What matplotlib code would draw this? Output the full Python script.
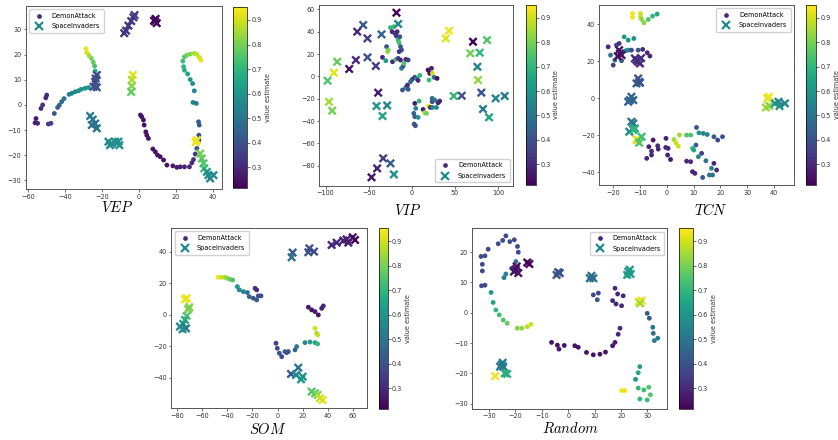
import matplotlib
matplotlib.use('Agg')
import matplotlib.pyplot as plt
from matplotlib.lines import Line2D
from matplotlib.colors import Normalize
import matplotlib.cm as cm

plt.rcParams['font.family'] = ['DejaVu Sans']
plt.rcParams['mathtext.fontset'] = 'cm'

VMIN, VMAX = 0.215, 0.953

# ---------------- VEP ----------------
vep_da_x = [-55.5, -54.6, -56, -52.8, -51.9, -50.2, -49.7,
            -48.8, -47.4, -45.6, -43.8, -42.9, -41.6, -40.3, -37.6, -36.2, -34.4, -32.6, -31.1, -29, -27.1,
            -23.5, -23.8, -24.5, -25.5, -26.8, -28, -28.5,
            23.9, 24.8, 26.1, 27.9, 30.1, 31.5, 32.8, 33.7,
            24.3, 24.8, 26.5, 27.9, 29.2, 30.1, 29.4, 31.2, 32.4, 32.8, 32.6, 32.6,
            31.5, 30.6, 29.7, 28.8, 27.5, 24.8, 22.5, 20.7, 18.5, 15.3, 13.5, 11.7, 10.2, 9, 7.7, 5.3, 4.4, 3.9, 3, 2.6, 1.7, 1]
vep_da_y = [-5.4, -7.3, -7.1, -1.4, 0, 2.8, 3.9,
            -7.6, -7.3, -3.4, -1, -0.1, 1.3, 2.5, 4.2, 4.6, 5.2, 5.6, 6.2, 6.6, 6.9,
            13.5, 15.5, 17, 18.5, 19.6, 20.8, 22.3,
            17.4, 19.1, 19.8, 20.2, 20.5, 20.1, 18.9, 17.8,
            15.2, 13.8, 12.3, 10.1, 8.5, 5.6, 1, 0.6, -6.7, -8, -12, -14,
            -17.3, -19.5, -21.7, -23, -24.6, -24.6, -24.6, -24.8, -24.2, -23.9, -21.9, -20.6, -19.9, -18.6, -17.5, -13.3, -12, -10.7, -8, -6, -4.7, -4]
vep_da_v = [0.27, 0.3, 0.28, 0.3, 0.32, 0.3, 0.3,
            0.33, 0.36, 0.4, 0.43, 0.45, 0.48, 0.5, 0.53, 0.55, 0.56, 0.57, 0.58, 0.6, 0.6,
            0.68, 0.74, 0.78, 0.8, 0.85, 0.9, 0.93,
            0.72, 0.75, 0.8, 0.82, 0.85, 0.88, 0.9, 0.92,
            0.7, 0.68, 0.64, 0.6, 0.58, 0.55, 0.55, 0.53, 0.43, 0.42, 0.4, 0.38,
            0.38, 0.35, 0.33, 0.3, 0.3, 0.28, 0.28, 0.27, 0.26, 0.25, 0.25, 0.25, 0.25, 0.25, 0.25, 0.25, 0.25, 0.25, 0.25, 0.25, 0.25, 0.25]
vep_si_x = [-7.8, -6.8, -5.5, -4, -2.8, -2.2, 8.4, 9.8, 9.2, 8.8,
            -22.6, -23.5, -24.4, -22.6, -23.2, -3.1, -3.7, -3.7, -4.0,
            -26.2, -24.8, -23.5, -22.6, -25.3, -16.3, -14.5, -12.7, -10.9, -10.4, -15.5,
            31.5, 30.8, 33.3, 34.2, 35.1, 35.5, 36.9, 37.8, 38.7, 40.5]
vep_si_y = [28.5, 29.5, 31.5, 33.3, 34.8, 35.7, 33.5, 32.5, 34.2, 33.2,
            11.9, 9.2, 7.2, 7, 10.5, 11.9, 9.9, 7.5, 5.2,
            -4.4, -5.8, -7.4, -9.3, -8, -14.6, -15.3, -14.6, -14.6, -16, -16,
            -14, -14.8, -19.3, -21.3, -23.2, -25.2, -26.6, -27.9, -29.2, -27.9]
vep_si_v = [0.33, 0.33, 0.33, 0.34, 0.34, 0.35, 0.22, 0.22, 0.22, 0.23,
            0.38, 0.38, 0.4, 0.4, 0.38, 0.92, 0.87, 0.82, 0.78,
            0.52, 0.52, 0.5, 0.5, 0.5, 0.57, 0.57, 0.58, 0.58, 0.58, 0.57,
            0.93, 0.93, 0.8, 0.78, 0.75, 0.72, 0.62, 0.58, 0.55, 0.56]

# ---------------- VIP ----------------
vip_da_x = [-24.7, -20.8, -22.8, -19.7, -17, -17.8, -15.8, -14.7, -13.9, -29.3, -28.1, -27.4, -13.1, -11.9, -14.7,
            -34, -30.1, -22.4, -18.5, -15.8, -13.1, -11.9, -10, -9.2, -6.9, -4.2,
            -10.8, -6.9, -4.2, -5, -1.5, 0.4, 3.5, 5.4, 9.3, 7.3, 18.9, 22.8, 20.8, 23.9, 20, 25.8, 29.3,
            3.5, 8.5, 4.6, 2.3, 3.5, 7.3, 2.7, 4.2, 13.1, 15, 17, 19.3, 21.6, 23.6, 23.6, 24, 28.6, 30.5, 32.4, 26.6]
vip_da_y = [43.6, 44.5, 40, 38.5, 40, 36.1, 32.5, 30.1, 35.5, 26.6, 22.1, 23.6, 26.6, 23.6, 22.1,
            17, 14, 13.1, 15.2, 16.1, 14.6, 7.2, 9.3, 11.6, 15.2, 14.6,
            -12.2, -9.9, -11.6, -7.8, -4.8, -2.7, -0.9, -1.8, 0.9, -3.6, 5.7, 7.2, 2.7, 2.7, -3.3, -0.9, -1.8,
            -24.2, -22.1, -28.7, -33.1, -36.1, -36.7, -42.7, -44.2, -29.6, -32.5, -33.1, -26.6, -27.8, -19.7, -22.7, -27.8, -27.8, -23.6, -22.1, -21.2]
vip_da_v = [0.7, 0.72, 0.3, 0.35, 0.3, 0.33, 0.7, 0.75, 0.4, 0.4, 0.85, 0.8, 0.42, 0.4, 0.33,
            0.3, 0.62, 0.3, 0.75, 0.35, 0.3, 0.55, 0.4, 0.75, 0.3, 0.35,
            0.4, 0.5, 0.42, 0.3, 0.5, 0.4, 0.3, 0.55, 0.7, 0.3, 0.25, 0.28, 0.25, 0.9, 0.72, 0.5, 0.25,
            0.28, 0.7, 0.55, 0.45, 0.42, 0.6, 0.42, 0.4, 0.28, 0.85, 0.8, 0.93, 0.28, 0.5, 0.4, 0.55, 0.55, 0.28, 0.3, 0.5]
vip_si_x = [-17.8, -56.4, -15.8, -63.3, -35.1, -51.4, 39.4, 43.2, 71, 87.3, 67.9, 78.8, 76.1, 76.8,
            -86.5, -64.9, -51.4, -72.6, -90.3, -41.7, -97.7, -39, -96.1, -92.3, -40.9, -28.6, -34,
            48.6, 57.9, 80.7, 82.6, 89.6, 97.3, 107.7, -33.2, -40.2, -46.7, -24.7, -20.8]
vip_si_y = [57, 46, 46.9, 40, 37.6, 34, 34, 40.9, 31, 32.5, 20.6, 21.2, 8.6, -3.3,
            13.1, 14.6, 17, 6.6, 3.3, 9.3, -3.9, -14.6, -22.7, -30.7, -26.6, -26, -35.5,
            -17.6, -17.3, -14.6, -29.3, -36.7, -19.7, -17.6, -73.4, -82.4, -90.4, -77.9, -87.8]
vip_si_v = [0.22, 0.42, 0.55, 0.3, 0.45, 0.35, 0.92, 0.93, 0.22, 0.75, 0.8, 0.7, 0.55, 0.83,
            0.78, 0.3, 0.4, 0.25, 0.92, 0.35, 0.75, 0.27, 0.85, 0.8, 0.6, 0.55, 0.65,
            0.7, 0.4, 0.4, 0.52, 0.65, 0.55, 0.52, 0.35, 0.28, 0.25, 0.42, 0.58]

# ---------------- TCN ----------------
tcn_da_x = [-12.8, -12.8, -9.8, -9.8, -9.4, -8.5, -6.9, -5.3, -3.6,
            -15.9, -14.4, -12.3, -14.4,
            -21.9, -21, -20, -18.8, -17.8, -15.3, -13.2, -10.7, -9, -7.3, -6.3, -19.4, -16.9,
            4.7, 2.7, 3.4, 4.3, 7.4, 8.9, 11.1, 12, 13.6, 15.1, 17.6, 19, 20.8, 9.6, 10.1, 10.9, 13, 11.8, 14.6,
            7.4, 8.9, 17.6, 18.6, 16.7, 9.6, 10.5, 13.4, 15.9, 17.1,
            -5.1, -0.3, -6.7, -5.7, -3.4, -3.2, -0.4, 0.5, 0.3, 1.4, -5.7, -7.5]
tcn_da_y = [45.9, 43.8, 45.9, 44.1, 42.7, 40.9, 42.7, 44.5, 45.6,
            33.3, 31.5, 32.4, 26.1,
            27.9, 23.4, 18, 28.8, 29.7, 25.8, 26.1, 26.1, 26.5, 24.7, 22.9, 20.7, 20.4,
            -19.8, -22.2, -24, -25.8, -19.8, -19.8, -15.7, -18.6, -18.9, -19.5, -20.7, -22.5, -20.7, -27, -27.9, -25.2, -29.7, -31.5, -33.7,
            -33.9, -34.2, -35.1, -38.7, -37.8, -39.6, -40.5, -42.7, -41.4, -41.4,
            -22.5, -21.6, -26.1, -28.5, -25.6, -27.4, -26.5, -27, -30.6, -33, -30.6, -32.4]
tcn_da_v = [0.93, 0.93, 0.9, 0.88, 0.83, 0.82, 0.75, 0.7, 0.65,
            0.62, 0.6, 0.58, 0.55,
            0.3, 0.5, 0.35, 0.38, 0.32, 0.55, 0.38, 0.4, 0.3, 0.3, 0.3, 0.5, 0.42,
            0.85, 0.85, 0.9, 0.9, 0.75, 0.75, 0.4, 0.6, 0.55, 0.55, 0.42, 0.38, 0.4, 0.7, 0.65, 0.42, 0.35, 0.55, 0.5,
            0.3, 0.3, 0.3, 0.3, 0.55, 0.3, 0.3, 0.42, 0.5, 0.5,
            0.25, 0.28, 0.28, 0.3, 0.3, 0.3, 0.3, 0.3, 0.28, 0.25, 0.3, 0.3]
tcn_si_x = [-17.5, -16.9, -17.8, -18.3, -11.9, -10.7, -10, -11.3, -9.6,
            -10.7, -10.3, -11.3, -10, -13.2, -13.8, -12.5, -14.4,
            -13.2, -12.5, -11.9, -14, -12.5, -11.3, -10.7, -10.3, -9.4,
            38.2, 37.5, 37, 38.3, 40.4, 41.7, 42.1, 44.1]
tcn_si_y = [24.3, 23.4, 26.1, 22.8, 21.6, 19.8, 18.9, 20.7, 21.8,
            10.8, 9, 8.1, 8.5, 0.9, -0.9, -0.9, -1.8,
            -12.6, -13.5, -16.2, -18, -17.1, -22.2, -22.5, -24, -20.7,
            0.9, 0, -4.9, -4.1, -2.7, -1.8, -4.1, -2.7]
tcn_si_v = [0.25, 0.25, 0.26, 0.25, 0.3, 0.3, 0.3, 0.3, 0.32,
            0.4, 0.4, 0.42, 0.4, 0.45, 0.45, 0.45, 0.45,
            0.5, 0.5, 0.65, 0.55, 0.7, 0.9, 0.92, 0.75, 0.72,
            0.93, 0.93, 0.85, 0.82, 0.62, 0.55, 0.6, 0.55]

# ---------------- SOM ----------------
som_da_x = [-47.1, -44.5, -41.8, -40, -37.8, -35.7,
            -32, -30.4, -27.2, -24, -22.5, -19.3, -16.6, -15.3, -13.2, -17.9, -16.6,
            24.5, 27.1, 29.8, 32.4, 35.1, 36.4,
            29.8, 31.1, 31.9,
            21.8, 25.8, 29.8, 31.9, 15.2, 13.9,
            -1.2, -0.2, 1.4, 3.3, 7.2, 8.6, 5.9]
som_da_y = [23.7, 23.7, 23.7, 23.1, 22.4, 22,
            17.8, 15.7, 14.6, 14, 11.4, 10.4, 9.3, 11.9, 11.9, 16.7, 15.7,
            4.7, 3, 1.9, -0.2, 4, 5.5,
            -8.7, -11.9, -12.9,
            -17.8, -17.4, -17.8, -18.6, -20.3, -22.4,
            -18.2, -21.4, -24.5, -26.7, -24.1, -23.5, -23.5]
som_da_v = [0.93, 0.9, 0.85, 0.82, 0.78, 0.75,
            0.62, 0.58, 0.55, 0.5, 0.45, 0.42, 0.42, 0.4, 0.38, 0.33, 0.3,
            0.27, 0.25, 0.27, 0.25, 0.28, 0.3,
            0.9, 0.85, 0.88,
            0.55, 0.62, 0.65, 0.7, 0.52, 0.45,
            0.35, 0.38, 0.4, 0.38, 0.38, 0.4, 0.42]
som_si_x = [-72.3, -73.6, -70.2, -71, -72.3, -73.6, -75, -77.6, -72.8, -75.5,
            12, 11.2, 25.3, 24.5, 29,
            43, 47, 52.3, 54.9, 59.8, 61.6, 56.3,
            10.7, 16.5, 14.7, 18.7, 20,
            27.1, 29.8, 31.9, 35.9, 33.7]
som_si_y = [10.4, 9.7, 4.7, 3.4, -0.8, -3.4, -5.9, -7.6, -8.7, -9.3,
            39.4, 36.4, 42.1, 39.6, 40,
            44.2, 45.7, 47, 47.8, 49.1, 47.4, 45.7,
            -37.7, -33.7, -38.3, -41.1, -39.4,
            -48.9, -50, -51, -54.2, -53.1]
som_si_v = [0.93, 0.93, 0.82, 0.8, 0.75, 0.68, 0.62, 0.55, 0.5, 0.58,
            0.42, 0.48, 0.4, 0.4, 0.38,
            0.3, 0.3, 0.28, 0.28, 0.25, 0.22, 0.28,
            0.42, 0.5, 0.55, 0.62, 0.58,
            0.75, 0.78, 0.82, 0.92, 0.9]

# ---------------- Random ----------------
rnd_da_x = [-33, -31.5, -30.3, -26.5, -24.8, -23.6, -22.1, -20.4, -19.2, -18.9, -32.5, -32.5, -32.8, -31.5,
            -19.8, -21.4, -23.6, -24.3,
            -29.2, -28.4, -27.4, -26.1, -24.6, -23.1, -19.3, -17.6, -15.5, -14.1,
            -6.3, -4.1, -3.5, -1.5, 2.5, 3.8, 6.9, 9.5, 12, 14.1, 16.8, 17.7, 18.9, 19.6,
            17.7, 18.7, 16.8, 18.1, 20.2, 20.8, 9.5, 11, 11.4,
            29.9, 30.7, 32, 32.2, 32.6, 33.9,
            27.1, 26.5, 25.5, 26.5, 28.6, 30.5, 31.1, 27.1, 29.9, 20.2, 21.4]
rnd_da_y = [18.6, 18.8, 21, 22.8, 23.9, 25.4, 23.5, 24.1, 21.9, 20, 16, 13.8, 8.9, 9.1,
            16.9, 14.7, 12.8, 11.6,
            6.7, 3.4, 0.9, -0.7, -2.4, -3.5, -5.1, -5.1, -4.6, -3.8,
            -9.8, -10.7, -12, -10.8, -10.9, -11.4, -13.1, -13.9, -13.7, -13, -10.9, -9.8, -7.1, -5.1,
            8.1, 6.2, 4, 2.9, 2.3, 5.6, 5.9, 4.3, 6.5,
            -0.2, -1.8, -4.8, -6.8, -9.2, -8.4,
            -17.8, -19.8, -22, -24.9, -25.5, -24.6, -27.1, -28.5, -28.8, -25.7, -25.7]
rnd_da_v = [0.38, 0.4, 0.38, 0.38, 0.38, 0.38, 0.4, 0.38, 0.38, 0.38, 0.38, 0.38, 0.38, 0.38,
            0.5, 0.42, 0.55, 0.52,
            0.62, 0.65, 0.7, 0.72, 0.75, 0.78, 0.82, 0.83, 0.87, 0.9,
            0.25, 0.25, 0.27, 0.25, 0.25, 0.25, 0.25, 0.25, 0.25, 0.25, 0.27, 0.27, 0.3, 0.3,
            0.3, 0.3, 0.3, 0.3, 0.3, 0.3, 0.38, 0.4, 0.38,
            0.42, 0.42, 0.5, 0.5, 0.52, 0.52,
            0.62, 0.65, 0.6, 0.7, 0.72, 0.75, 0.75, 0.7, 0.72, 0.93, 0.93]
rnd_si_x = [-19.8, -20.5, -18.9, -19.5, -15.5, -14.7,
            -3.8, -4.4, -3.2, 8.8, 9.5, 8.2,
            22.7, 23.6, 22.3, 23.3, 26.7, 27.8, 27.2,
            -25.2, -24.6, -25.8, -24.8, -24, -23.1, -27.6]
rnd_si_y = [14.4, 13.6, 13.1, 15.3, 16.6, 16.1,
            13.4, 12.5, 13.1, 12.2, 11.4, 11.4,
            13.6, 12.8, 12.5, 14.2, 3.7, 4, 3.1,
            -17.2, -17.8, -17.8, -16.5, -20, -20.2, -20.9]
rnd_si_v = [0.25, 0.25, 0.25, 0.25, 0.22, 0.22,
            0.4, 0.4, 0.4, 0.48, 0.48, 0.48,
            0.62, 0.62, 0.62, 0.62, 0.93, 0.93, 0.85,
            0.52, 0.52, 0.52, 0.52, 0.68, 0.68, 0.93]

names = ['$VEP$', '$VIP$', '$TCN$', '$SOM$', '$Random$']

panels = [
    dict(da=(vep_da_x, vep_da_y, vep_da_v), si=(vep_si_x, vep_si_y, vep_si_v),
         ax=[26, 6, 222, 189], cb=[233, 7, 247, 188], xlim=(-60.9, 45.1), ylim=(-33.4, 39.3),
         xt=[-60, -40, -20, 0, 20, 40], yt=[-30, -20, -10, 0, 10, 20, 30], loc='upper left',
         lab=(116.7, 207)),
    dict(da=(vip_da_x, vip_da_y, vip_da_v), si=(vip_si_x, vip_si_y, vip_si_v),
         ax=[319.3, 5, 513, 185.7], cb=[525.7, 5, 535.7, 185], xlim=(-107.3, 117.4), ylim=(-97.9, 63.9),
         xt=[-100, -50, 0, 50, 100], yt=[-80, -60, -40, -20, 0, 20, 40, 60], loc='lower right',
         lab=(407.5, 210)),
    dict(da=(tcn_da_x, tcn_da_y, tcn_da_v), si=(tcn_si_x, tcn_si_y, tcn_si_v),
         ax=[599.3, 5, 794, 185], cb=[806, 5, 816, 185], xlim=(-25.2, 47.5), ylim=(-46.8, 50.5),
         xt=[-20, -10, 0, 10, 20, 30, 40], yt=[-40, -20, 0, 20, 40], loc='upper right',
         lab=(710.7, 210)),
    dict(da=(som_da_x, som_da_y, som_da_v), si=(som_si_x, som_si_y, som_si_v),
         ax=[171.3, 228, 366.7, 408.3], cb=[378.7, 228.3, 387.5, 409], xlim=(-84.5, 70.9), ylim=(-59.5, 55.0),
         xt=[-80, -60, -40, -20, 0, 20, 40, 60], yt=[-40, -20, 0, 20, 40], loc='upper left',
         lab=(268, 429.3)),
    dict(da=(rnd_da_x, rnd_da_y, rnd_da_v), si=(rnd_si_x, rnd_si_y, rnd_si_v),
         ax=[472.3, 228.3, 667.3, 408.7], cb=[679.3, 228.3, 693.3, 409.3], xlim=(-36.3, 37.5), ylim=(-31.7, 27.9),
         xt=[-30, -20, -10, 0, 10, 20, 30], yt=[-30, -20, -10, 0, 10, 20], loc='upper right',
         lab=(570.5, 428.7)),
]

W, H = 838, 440
fig = plt.figure(figsize=(W / 100, H / 100), dpi=100)
norm = Normalize(vmin=VMIN, vmax=VMAX)
cmap = plt.get_cmap('viridis')
FS = 4.7


def rect(b):
    x0, y0, x1, y1 = b
    return [x0 / W, 1 - y1 / H, (x1 - x0) / W, (y1 - y0) / H]


for p, name in zip(panels, names):
    ax = fig.add_axes(rect(p['ax']))
    dx, dy, dv = p['da']
    sx, sy, sv = p['si']
    ax.scatter(dx, dy, c=dv, cmap=cmap, norm=norm, s=12, marker='o', linewidths=0)
    ax.scatter(sx, sy, c=sv, cmap=cmap, norm=norm, s=28, marker='x', linewidths=1.7)
    ax.set_xlim(*p['xlim'])
    ax.set_ylim(*p['ylim'])
    ax.set_xticks(p['xt'])
    ax.set_yticks(p['yt'])
    ax.tick_params(labelsize=FS, length=1.8, width=0.5, pad=1.5, colors='#333333')
    for s in ax.spines.values():
        s.set_color('#555555')
        s.set_linewidth(0.7)
    handles = [Line2D([], [], linestyle='none', marker='o', markersize=3.4,
                      markerfacecolor=cmap(norm(0.3)), markeredgewidth=0),
               Line2D([], [], linestyle='none', marker='x', markersize=5.2,
                      markeredgecolor=cmap(norm(0.57)), markeredgewidth=1.6)]
    ax.legend(handles, ['DemonAttack', 'SpaceInvaders'], loc=p['loc'], fontsize=FS,
              frameon=True, framealpha=0.9, edgecolor='#cccccc', borderpad=0.55,
              handletextpad=0.9, labelspacing=0.7, handlelength=2.0)
    cax = fig.add_axes(rect(p['cb']))
    cb = fig.colorbar(cm.ScalarMappable(norm=norm, cmap=cmap), cax=cax)
    cb.set_ticks([0.3, 0.4, 0.5, 0.6, 0.7, 0.8, 0.9])
    cb.ax.tick_params(labelsize=FS, length=1.8, width=0.5, pad=1.5, colors='#333333')
    cb.outline.set_linewidth(0.5)
    cb.set_label('value estimate', fontsize=FS, labelpad=2, color='#333333')
    fig.text(p['lab'][0] / W, 1 - p['lab'][1] / H, name, fontsize=10.5,
             ha='center', va='center')

fig.savefig('out.png', dpi=100)
